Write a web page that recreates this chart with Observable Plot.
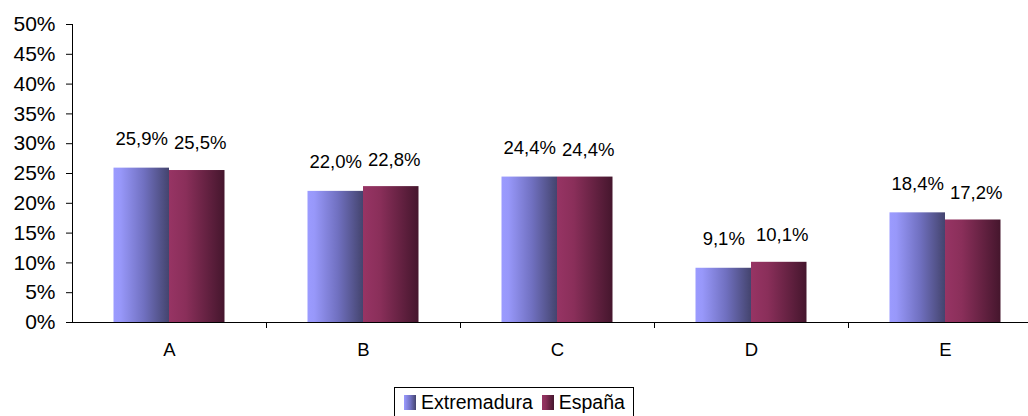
<!DOCTYPE html>
<html>
<head>
<meta charset="utf-8">
<script src="https://cdn.jsdelivr.net/npm/d3@7"></script>
<script src="https://cdn.jsdelivr.net/npm/@observablehq/plot@0.6"></script>
<style>
  html, body { margin: 0; padding: 0; background: #fff; }
  #chart { width: 1028px; font-family: "Liberation Sans", Arial, sans-serif; }
  #legend { display: flex; justify-content: center; margin-top: 13px; }
  .lbox { border: 1px solid #000; display: flex; align-items: center; padding: 3px 8px 3px 9px; font-size: 19.5px; color: #000; line-height: 22px; }
  .sw { display: inline-block; width: 12px; height: 15px; margin-right: 5px; }
  .item { display: flex; align-items: center; margin-right: 9px; }
  .item:last-child { margin-right: 0; }
</style>
</head>
<body>
<div id="chart"></div>
<script>
const categories = ["A", "B", "C", "D", "E"];
const seriesNames = ["Extremadura", "España"];
const extremadura = [25.9, 22.0, 24.4, 9.1, 18.4];
const espana = [25.5, 22.8, 24.4, 10.1, 17.2];
const yTicks = [0, 5, 10, 15, 20, 25, 30, 35, 40, 45, 50];

const data = categories.map((c, i) => ({category: c, ext: extremadura[i], esp: espana[i]}));
const fmt = v => v.toFixed(1).replace(".", ",") + "%";

const BAND = 194, BAR = 55.5;
const outer = (BAND - 2 * BAR) / 2;

const svg = Plot.plot({
  width: 1028,
  height: 374,
  marginTop: 24,
  marginBottom: 52,
  marginLeft: 72,
  marginRight: 0,
  style: {fontFamily: "'Liberation Sans', Arial, sans-serif", fontSize: "18px", color: "#000", background: "#fff"},
  x: {domain: categories, range: [72, 72 + BAND * categories.length], padding: 0},
  y: {domain: [0, 50]},
  marks: [
    Plot.barY(data, {x: "category", y: "ext", fill: "url(#gExt)", insetLeft: outer, insetRight: BAND / 2}),
    Plot.barY(data, {x: "category", y: "esp", fill: "url(#gEsp)", insetLeft: BAND / 2, insetRight: outer}),
    Plot.text(data, {x: "category", y: "ext", text: d => fmt(d.ext), dx: -BAR / 2, dy: -29, fontSize: 18.5, fill: "#000"}),
    Plot.text(data, {x: "category", y: "esp", text: d => fmt(d.esp), dx: BAR / 2 + 3, dy: -27, fontSize: 18.5, fill: "#000"}),
    Plot.axisY({ticks: yTicks, tickFormat: d => d + "%", tickSize: 6, tickPadding: 11, fontSize: 21, label: null, stroke: "#000"}),
    Plot.frame({anchor: "left", stroke: "#000"}),
    Plot.ruleY([0], {stroke: "#000"}),
    Plot.axisX({tickSize: 0, tickPadding: 20, fontSize: 18.5, label: null}),
    Plot.axisX({tickSize: 6, text: null, dx: BAND / 2, label: null, stroke: "#000"})
  ]
});

const ns = "http://www.w3.org/2000/svg";
const defs = document.createElementNS(ns, "defs");
function grad(id, stops) {
  const g = document.createElementNS(ns, "linearGradient");
  g.setAttribute("id", id);
  g.setAttribute("x1", "0"); g.setAttribute("x2", "1");
  g.setAttribute("y1", "0"); g.setAttribute("y2", "0");
  for (const [o, c] of stops) {
    const s = document.createElementNS(ns, "stop");
    s.setAttribute("offset", o);
    s.setAttribute("stop-color", c);
    g.appendChild(s);
  }
  defs.appendChild(g);
}
grad("gExt", [[0, "#9b9bff"], [0.12, "#9898fa"], [0.55, "#7070c0"], [1, "#44446e"]]);
grad("gEsp", [[0, "#973464"], [0.3, "#8a2f5a"], [1, "#45162d"]]);
svg.insertBefore(defs, svg.firstChild);

const chart = document.getElementById("chart");
chart.appendChild(svg);

const legend = document.createElement("div");
legend.id = "legend";
const box = document.createElement("div");
box.className = "lbox";
const swatchCss = {
  "Extremadura": "linear-gradient(to right, #9b9bff, #7070c0 55%, #44446e)",
  "España": "linear-gradient(to right, #973464, #8a2f5a 30%, #45162d)"
};
for (const name of seriesNames) {
  const it = document.createElement("span");
  it.className = "item";
  const sw = document.createElement("span");
  sw.className = "sw";
  sw.style.background = swatchCss[name];
  it.appendChild(sw);
  it.appendChild(document.createTextNode(name));
  box.appendChild(it);
}
legend.appendChild(box);
chart.appendChild(legend);
</script>
</body>
</html>
